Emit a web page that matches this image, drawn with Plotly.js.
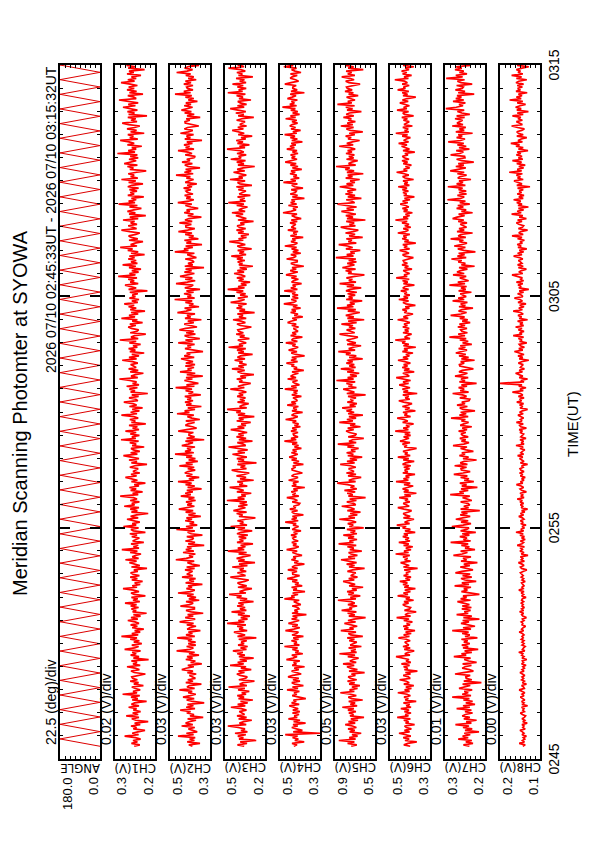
<!DOCTYPE html>
<html>
<head>
<meta charset="utf-8">
<script src="https://cdn.plot.ly/plotly-3.0.1.min.js"></script>
<style>
  html, body { margin: 0; padding: 0; background: #ffffff; }
  #page { position: relative; width: 595px; height: 842px; overflow: hidden; background: #fff; }
  #plot { position: absolute; left: 0; top: 0; width: 842px; height: 595px;
          transform-origin: 0 0; transform: translate(0px, 842px) rotate(-90deg); }
</style>
</head>
<body>
<div id="page"><div id="plot"></div></div>
<script>
// ---------------- data ----------------
const startTime = '2026-07-10 02:45:33';
const sampleStepSec = 3.75;   // photometer channel sampling
const angleStepSec = 19;      // one meridian sweep

const angleDeg = [0,180,0,180,0,180,0,180,0,180,0,180,0,180,0,180,0,180,0,180,
0,180,0,180,0,180,0,180,0,180,0,180,0,180,0,180,0,180,0,180,
0,180,0,180,0,180,0,180,0,180,0,180,0,180,0,180,0,180,0,180,
0,180,0,180,0,180,0,180,0,180,0,180,0,180,0,180,0,180,0,180,
0,180,0,180,0,180,0,180,0,180,0,180,0,180,0];

const ch1 = [.252,.238,.259,.244,.255,.236,.249,.276,.241,.257,.243,.225,.254,.246,.260,.237,.251,.217,.248,.258,.240,.272,.242,.256,
.236,.254,.246,.266,.240,.259,.251,.221,.257,.243,.260,.238,.281,.245,.255,.237,.249,.258,.229,.253,.241,.262,.244,.256,
.258,.242,.224,.252,.260,.239,.250,.270,.237,.255,.245,.259,.216,.254,.240,.261,.247,.257,.236,.276,.251,.241,.258,.233,
.253,.239,.262,.245,.284,.242,.258,.237,.251,.228,.257,.244,.261,.240,.250,.268,.243,.260,.236,.254,.221,.256,.247,.259,
.241,.261,.246,.275,.238,.255,.243,.259,.224,.252,.260,.240,.254,.280,.245,.257,.237,.251,.231,.258,.244,.262,.239,.255,
.261,.243,.253,.220,.259,.238,.255,.264,.246,.274,.241,.257,.248,.235,.262,.244,.283,.240,.254,.242,.260,.228,.256,.247,
.239,.258,.245,.263,.224,.254,.260,.241,.279,.247,.257,.238,.252,.270,.242,.261,.246,.217,.259,.244,.262,.240,.277,.251,
.258,.239,.262,.245,.254,.287,.242,.256,.231,.261,.247,.264,.240,.252,.224,.259,.244,.263,.274,.246,.260,.238,.255,.249,
.242,.263,.250,.220,.259,.245,.265,.240,.256,.279,.244,.261,.238,.254,.260,.227,.257,.247,.263,.241,.285,.248,.258,.239,
.262,.247,.274,.240,.256,.244,.265,.223,.259,.249,.263,.242,.253,.284,.245,.261,.239,.257,.231,.264,.246,.255,.278,.243,
.248,.265,.241,.258,.218,.261,.250,.264,.244,.271,.240,.256,.246,.263,.289,.243,.260,.249,.229,.262,.242,.266,.247,.254,
.261,.243,.256,.282,.246,.265,.240,.258,.227,.263,.249,.266,.244,.255,.236,.264,.247,.288,.242,.260,.251,.223,.262,.245,
.241,.259,.267,.248,.263,.231,.257,.244,.284,.250,.265,.242,.260,.225,.262,.247,.266,.252,.277,.243,.258,.240,.264,.249,
.257,.243,.263,.219,.266,.247,.259,.275,.242,.262,.252,.267,.245,.292,.249,.264,.241,.258,.235,.265,.248,.281,.244,.260,
.247,.267,.251,.264,.226,.260,.242,.268,.256,.287,.245,.261,.250,.230,.265,.243,.259,.266,.248,.238,.263,.284,.246,.257,
.267,.245,.261,.251,.280,.242,.263,.223,.265,.249,.269,.253,.234,.264,.244,.291,.250,.266,.247,.259,.228,.268,.252,.262,
.245,.264,.241,.268,.258,.230,.266,.248,.284,.243,.261,.252,.267,.246,.222,.263,.254,.269,.244,.277,.260,.247,.265,.242,
.262,.244,.294,.250,.267,.247,.258,.233,.269,.252,.265,.287,.243,.263,.254,.268,.227,.261,.246,.270,.251,.238,.266,.282,
.245,.260,.248,.268,.220,.266,.251,.269,.244,.259,.280,.249,.267,.242,.262,.290,.247,.253,.268,.230,.264,.246,.270,.252,
.266,.244,.262,.285,.251,.268,.247,.259,.235,.270,.253,.265,.226,.267,.249,.271,.260,.294,.245,.263,.255,.240,.268,.250];

const ch2 = [.388,.406,.350,.414,.378,.402,.374,.460,.382,.418,.364,.390,.408,.376,.442,.386,.422,.404,.370,.412,.334,.400,.380,.416,
.397,.449,.375,.419,.383,.413,.329,.387,.417,.379,.435,.399,.371,.409,.389,.453,.377,.415,.403,.343,.421,.385,.411,.373,
.391,.403,.369,.413,.385,.441,.419,.381,.411,.341,.397,.373,.421,.387,.415,.355,.405,.377,.467,.401,.383,.417,.371,.409,
.372,.410,.390,.464,.376,.420,.388,.408,.348,.414,.402,.370,.416,.382,.452,.406,.374,.424,.384,.412,.334,.394,.420,.378,
.378,.448,.402,.384,.420,.354,.406,.370,.414,.382,.460,.398,.376,.418,.390,.410,.338,.422,.380,.404,.372,.440,.386,.416,
.401,.387,.425,.377,.417,.351,.391,.413,.379,.471,.419,.385,.405,.373,.435,.381,.421,.393,.415,.329,.409,.375,.423,.389,
.382,.416,.338,.394,.412,.376,.468,.386,.420,.364,.402,.380,.424,.390,.418,.346,.408,.372,.422,.384,.456,.404,.378,.414,
.390,.420,.372,.408,.378,.446,.396,.424,.386,.416,.342,.412,.376,.422,.392,.460,.380,.406,.354,.418,.388,.426,.410,.374,
.411,.379,.453,.387,.421,.361,.407,.373,.419,.389,.475,.381,.425,.395,.415,.375,.441,.409,.385,.423,.329,.417,.377,.405,
.405,.383,.459,.417,.367,.387,.423,.409,.377,.421,.351,.391,.413,.381,.465,.403,.427,.375,.411,.343,.419,.393,.425,.385,
.414,.394,.426,.346,.408,.384,.422,.390,.472,.378,.418,.358,.396,.428,.388,.420,.336,.416,.374,.450,.392,.412,.380,.424,
.375,.421,.385,.411,.445,.379,.429,.399,.417,.335,.383,.425,.395,.413,.377,.459,.387,.423,.351,.407,.427,.373,.419,.381,
.453,.421,.365,.391,.429,.381,.411,.343,.425,.397,.415,.375,.463,.419,.393,.427,.355,.405,.383,.423,.389,.477,.377,.413,
.394,.430,.382,.418,.350,.426,.396,.384,.470,.414,.374,.424,.388,.450,.408,.378,.428,.392,.422,.330,.426,.386,.410,.380,
.388,.424,.368,.398,.414,.378,.476,.408,.430,.386,.422,.340,.418,.394,.428,.358,.406,.382,.424,.390,.458,.412,.376,.420,
.421,.393,.453,.389,.425,.405,.343,.411,.383,.429,.401,.417,.359,.395,.423,.391,.461,.407,.381,.419,.397,.427,.385,.413,
.420,.396,.432,.390,.414,.366,.424,.406,.382,.418,.398,.470,.384,.428,.394,.422,.350,.410,.426,.388,.440,.400,.416,.380,
.374,.424,.390,.410,.460,.380,.422,.402,.430,.388,.416,.340,.426,.398,.418,.382,.448,.408,.386,.428,.412,.356,.392,.424,
.425,.401,.419,.349,.415,.379,.427,.393,.443,.407,.387,.429,.395,.421,.363,.409,.381,.423,.391,.475,.397,.431,.385,.413,
.417,.385,.431,.395,.423,.369,.409,.381,.421,.397,.467,.415,.387,.427,.411,.355,.425,.393,.417,.383,.457,.399,.429,.389];

const ch3 = [.356,.407,.335,.386,.266,.395,.362,.404,.344,.425,.332,.380,.350,.401,.479,.341,.392,.359,.299,.398,.338,.410,.353,.374,
.393,.339,.378,.456,.348,.405,.330,.384,.291,.399,.357,.408,.342,.375,.318,.402,.351,.474,.336,.390,.363,.279,.396,.345,
.333,.387,.411,.354,.399,.303,.381,.342,.462,.360,.405,.336,.390,.285,.396,.351,.408,.366,.441,.339,.384,.330,.402,.357,
.379,.337,.397,.265,.406,.349,.385,.433,.334,.394,.364,.409,.343,.484,.355,.400,.331,.382,.313,.403,.352,.451,.340,.388,
.349,.409,.361,.400,.286,.388,.334,.412,.376,.469,.343,.391,.358,.298,.403,.337,.385,.406,.352,.322,.397,.460,.346,.379,
.407,.341,.389,.359,.446,.332,.395,.275,.401,.353,.413,.365,.308,.398,.338,.479,.356,.404,.347,.383,.290,.410,.362,.392,
.341,.398,.329,.410,.380,.296,.404,.350,.458,.335,.389,.362,.407,.344,.272,.395,.368,.413,.338,.437,.386,.347,.401,.332,
.390,.336,.486,.354,.405,.345,.378,.303,.411,.360,.399,.465,.333,.393,.366,.408,.285,.387,.342,.414,.357,.318,.402,.450,
.339,.384,.348,.408,.264,.402,.357,.411,.336,.381,.444,.351,.405,.330,.390,.474,.345,.363,.408,.294,.396,.342,.414,.360,
.400,.334,.388,.457,.355,.406,.343,.379,.307,.412,.361,.397,.280,.403,.349,.415,.382,.484,.337,.391,.367,.322,.406,.352,
.388,.346,.409,.364,.397,.340,.379,.460,.355,.403,.361,.307,.394,.370,.412,.343,.385,.283,.376,.406,.352,.448,.358,.400,
.338,.392,.368,.428,.350,.407,.383,.293,.401,.359,.410,.344,.473,.365,.395,.341,.377,.404,.317,.389,.353,.416,.362,.398,
.404,.356,.302,.386,.410,.347,.380,.440,.341,.395,.365,.407,.278,.392,.350,.413,.371,.401,.338,.458,.383,.353,.404,.329,
.387,.345,.414,.363,.480,.354,.402,.339,.381,.312,.399,.360,.411,.348,.378,.432,.357,.408,.336,.390,.291,.396,.369,.405,
.351,.411,.366,.453,.342,.393,.357,.405,.300,.384,.408,.348,.390,.468,.363,.399,.339,.381,.321,.402,.360,.414,.345,.393,
.409,.355,.385,.286,.403,.340,.391,.418,.364,.448,.349,.397,.370,.331,.412,.358,.475,.346,.388,.352,.406,.310,.394,.367,
.343,.400,.361,.415,.298,.388,.406,.349,.463,.367,.397,.340,.382,.436,.352,.409,.364,.277,.403,.358,.412,.346,.457,.379,
.398,.341,.410,.359,.386,.485,.350,.392,.317,.407,.365,.416,.344,.380,.296,.401,.356,.413,.446,.362,.404,.338,.389,.371,
.350,.413,.374,.284,.401,.359,.419,.344,.392,.461,.356,.407,.338,.386,.404,.305,.395,.365,.413,.347,.479,.368,.398,.341,
.408,.363,.444,.342,.390,.354,.417,.291,.399,.369,.411,.348,.381,.474,.357,.405,.339,.393,.315,.414,.360,.387,.456,.351];

const ch4 = [.431,.415,.440,.379,.426,.408,.437,.412,.474,.300,.434,.388,.417,.441,.411,.435,.372,.432,.400,.458,.414,.429,.405,.438,
.401,.436,.409,.429,.454,.404,.442,.419,.433,.371,.407,.439,.416,.430,.403,.465,.410,.438,.383,.426,.441,.400,.435,.406,
.460,.436,.394,.413,.442,.406,.429,.377,.439,.418,.432,.401,.468,.435,.415,.441,.386,.424,.407,.438,.412,.478,.403,.430,
.416,.443,.407,.434,.383,.440,.417,.408,.473,.431,.401,.439,.411,.458,.427,.404,.442,.414,.437,.368,.440,.410,.428,.405,
.411,.439,.396,.419,.431,.404,.478,.427,.443,.410,.437,.375,.434,.416,.442,.389,.425,.407,.439,.413,.464,.430,.402,.436,
.437,.415,.461,.412,.440,.425,.378,.429,.408,.443,.421,.434,.390,.417,.438,.414,.467,.426,.406,.435,.418,.441,.409,.431,
.436,.418,.445,.413,.432,.395,.439,.426,.407,.435,.419,.474,.409,.442,.416,.438,.383,.429,.441,.412,.451,.421,.433,.406,
.401,.439,.413,.429,.466,.406,.438,.422,.444,.412,.433,.376,.441,.419,.435,.407,.457,.427,.410,.442,.430,.388,.415,.439,
.440,.422,.436,.383,.433,.405,.442,.416,.454,.427,.411,.443,.417,.437,.393,.428,.407,.439,.414,.478,.419,.445,.410,.431,
.434,.410,.445,.417,.439,.398,.428,.407,.437,.419,.472,.433,.411,.442,.430,.387,.440,.416,.434,.408,.464,.420,.443,.413,
.421,.435,.393,.441,.414,.432,.411,.476,.417,.444,.403,.423,.437,.412,.462,.420,.447,.434,.408,.440,.381,.431,.415,.443,
.429,.468,.412,.445,.418,.441,.377,.421,.444,.415,.457,.430,.409,.438,.422,.471,.413,.442,.433,.388,.447,.419,.439,.410,
.424,.433,.407,.441,.419,.462,.445,.416,.439,.386,.429,.410,.447,.421,.442,.397,.435,.413,.481,.432,.418,.444,.409,.438,
.410,.439,.423,.479,.413,.446,.422,.437,.392,.442,.433,.408,.443,.417,.470,.436,.411,.449,.419,.440,.381,.426,.446,.414,
.414,.467,.433,.419,.446,.396,.436,.408,.442,.417,.476,.430,.413,.445,.423,.439,.384,.448,.416,.434,.410,.461,.420,.443,
.432,.421,.450,.414,.444,.394,.424,.441,.415,.485,.446,.420,.435,.411,.458,.417,.447,.426,.443,.378,.438,.412,.449,.423,
.418,.444,.385,.427,.441,.413,.483,.421,.447,.404,.433,.416,.450,.424,.445,.391,.438,.410,.448,.419,.474,.435,.415,.442,
.424,.447,.410,.438,.415,.466,.428,.450,.421,.444,.388,.441,.413,.448,.425,.477,.416,.436,.397,.445,.422,.451,.439,.412,
.440,.416,.472,.422,.448,.402,.437,.411,.446,.423,.488,.417,.451,.428,.443,.413,.463,.439,.420,.449,.378,.445,.414,.436,
.436,.419,.476,.445,.407,.422,.449,.439,.414,.448,.395,.425,.442,.417,.481,.434,.452,.413,.440,.389,.446,.426,.451,.420];

const ch5 = [.738,.682,.774,.706,.862,.694,.758,.674,.730,.638,.754,.702,.770,.686,.726,.798,.698,.766,.670,.742,.610,.750,.714,.762,
.691,.771,.711,.827,.679,.747,.699,.763,.623,.735,.767,.687,.743,.847,.707,.755,.675,.731,.651,.759,.703,.775,.683,.747,
.768,.696,.736,.604,.760,.676,.744,.780,.708,.820,.688,.752,.716,.664,.772,.700,.856,.684,.740,.692,.764,.636,.748,.712,
.682,.758,.706,.778,.622,.742,.766,.690,.842,.714,.754,.678,.734,.806,.694,.770,.710,.594,.762,.702,.774,.686,.834,.730,
.755,.679,.771,.703,.739,.871,.691,.747,.647,.767,.711,.779,.683,.731,.619,.759,.699,.775,.819,.707,.763,.675,.743,.719,
.692,.776,.724,.604,.760,.704,.784,.684,.748,.840,.700,.768,.676,.740,.764,.632,.752,.712,.776,.688,.864,.716,.756,.680,
.769,.709,.817,.681,.745,.697,.781,.613,.757,.717,.773,.689,.733,.857,.701,.765,.677,.749,.645,.777,.705,.741,.833,.693,
.714,.782,.686,.754,.594,.766,.722,.778,.698,.806,.682,.746,.706,.774,.878,.694,.762,.718,.638,.770,.690,.786,.710,.738,
.764,.692,.744,.848,.704,.780,.680,.752,.628,.772,.716,.784,.696,.740,.664,.776,.708,.872,.688,.760,.724,.612,.768,.700,
.685,.757,.789,.713,.773,.645,.749,.697,.857,.721,.781,.689,.761,.621,.769,.709,.785,.729,.829,.693,.753,.681,.777,.717,
.746,.690,.770,.594,.782,.706,.754,.818,.686,.766,.726,.786,.698,.886,.714,.774,.682,.750,.658,.778,.710,.842,.694,.758,
.707,.787,.723,.775,.623,.759,.687,.791,.743,.867,.699,.763,.719,.639,.779,.691,.755,.783,.711,.671,.771,.855,.703,.747,
.784,.696,.760,.720,.836,.684,.768,.608,.776,.712,.792,.728,.652,.772,.692,.880,.716,.780,.704,.752,.628,.788,.724,.764,
.698,.774,.682,.790,.750,.638,.782,.710,.854,.690,.762,.726,.786,.702,.606,.770,.734,.794,.694,.826,.758,.706,.778,.686,
.763,.691,.891,.715,.783,.703,.747,.647,.791,.723,.775,.863,.687,.767,.731,.787,.623,.759,.699,.795,.719,.667,.779,.843,
.696,.756,.708,.788,.596,.780,.720,.792,.692,.752,.836,.712,.784,.684,.764,.876,.704,.728,.788,.636,.772,.700,.796,.724,
.777,.689,.761,.853,.717,.785,.701,.749,.653,.793,.725,.773,.617,.781,.709,.797,.753,.889,.693,.765,.733,.673,.785,.713,
.762,.706,.790,.730,.774,.698,.750,.858,.718,.782,.726,.654,.770,.738,.794,.702,.758,.622,.746,.786,.714,.842,.722,.778,
.696,.768,.736,.816,.712,.788,.756,.636,.780,.724,.792,.704,.876,.732,.772,.700,.748,.784,.668,.764,.716,.800,.728,.776,
.785,.721,.649,.761,.793,.709,.753,.833,.701,.773,.733,.789,.617,.769,.713,.797,.741,.781,.697,.857,.757,.717,.785,.685];

const ch6 = [.399,.431,.411,.366,.425,.404,.434,.396,.421,.455,.402,.428,.393,.418,.427,.377,.422,.407,.431,.398,.464,.408,.424,.395,
.428,.405,.446,.395,.419,.401,.433,.369,.424,.408,.430,.398,.415,.461,.402,.427,.393,.421,.381,.431,.404,.418,.452,.399,
.408,.434,.397,.423,.363,.428,.411,.432,.402,.443,.396,.420,.405,.431,.470,.400,.426,.409,.379,.429,.399,.435,.406,.417,
.426,.399,.419,.458,.403,.432,.394,.422,.375,.429,.408,.434,.400,.417,.388,.431,.405,.467,.397,.425,.411,.369,.428,.402,
.397,.424,.436,.407,.430,.382,.421,.401,.462,.410,.433,.398,.426,.373,.429,.406,.435,.413,.451,.400,.423,.395,.432,.409,
.420,.398,.429,.362,.433,.404,.423,.447,.397,.427,.412,.435,.401,.472,.407,.430,.395,.421,.386,.432,.406,.456,.400,.424,
.405,.436,.411,.431,.374,.425,.398,.437,.419,.466,.402,.427,.410,.380,.433,.399,.424,.434,.407,.392,.430,.461,.404,.421,
.434,.401,.425,.410,.454,.396,.428,.368,.431,.407,.437,.413,.384,.430,.399,.470,.408,.433,.404,.422,.375,.436,.411,.427,
.402,.431,.396,.437,.422,.379,.434,.406,.461,.399,.426,.412,.435,.403,.367,.429,.415,.438,.400,.450,.425,.405,.432,.397,
.426,.399,.474,.408,.434,.403,.420,.382,.437,.411,.431,.464,.397,.428,.414,.435,.373,.425,.402,.438,.409,.390,.432,.456,
.401,.424,.406,.436,.364,.433,.410,.438,.400,.423,.454,.407,.435,.397,.427,.469,.404,.413,.436,.379,.430,.403,.439,.412,
.432,.398,.426,.460,.409,.435,.403,.421,.385,.438,.412,.430,.371,.433,.406,.439,.423,.474,.400,.427,.415,.392,.435,.407,
.426,.404,.436,.413,.430,.401,.421,.462,.409,.433,.412,.385,.429,.416,.438,.403,.424,.373,.420,.435,.407,.456,.410,.432,
.401,.428,.416,.446,.407,.436,.424,.378,.433,.411,.437,.404,.469,.414,.430,.402,.421,.434,.390,.427,.408,.440,.413,.431,
.434,.410,.383,.425,.437,.405,.422,.452,.402,.430,.414,.436,.371,.428,.407,.439,.417,.433,.401,.461,.424,.408,.434,.396,
.426,.405,.440,.414,.473,.409,.434,.402,.423,.388,.432,.412,.438,.406,.422,.449,.411,.437,.400,.428,.378,.431,.417,.435,
.408,.438,.415,.459,.403,.429,.411,.435,.382,.425,.437,.406,.428,.467,.414,.432,.402,.423,.393,.434,.412,.440,.405,.429,
.438,.410,.426,.376,.435,.403,.429,.442,.415,.457,.407,.432,.418,.398,.439,.412,.471,.406,.427,.409,.436,.388,.430,.416,
.404,.433,.413,.441,.382,.427,.436,.407,.465,.416,.432,.403,.424,.451,.409,.438,.415,.371,.435,.412,.439,.406,.462,.423,
.433,.404,.439,.413,.427,.476,.408,.430,.392,.437,.416,.442,.405,.424,.381,.434,.411,.440,.457,.414,.436,.402,.428,.419];

const ch7 = [.239,.254,.230,.248,.233,.267,.242,.256,.237,.252,.215,.250,.232,.255,.240,.274,.234,.247,.221,.253,.238,.257,.249,.231,
.250,.234,.271,.238,.255,.225,.248,.231,.254,.239,.282,.235,.257,.242,.252,.232,.265,.249,.237,.256,.209,.253,.233,.247,
.248,.237,.275,.254,.229,.239,.257,.250,.234,.256,.221,.241,.252,.236,.278,.247,.259,.233,.251,.217,.255,.242,.258,.238,
.253,.243,.259,.219,.250,.238,.257,.241,.282,.235,.255,.225,.244,.260,.240,.256,.214,.254,.233,.271,.242,.252,.236,.258,
.234,.257,.239,.252,.269,.236,.261,.246,.255,.214,.238,.259,.244,.253,.235,.276,.240,.258,.222,.250,.260,.233,.256,.237,
.274,.258,.230,.243,.262,.238,.253,.219,.260,.246,.255,.235,.279,.257,.244,.261,.225,.250,.239,.259,.242,.286,.236,.254,
.245,.263,.239,.257,.223,.261,.246,.240,.283,.255,.235,.260,.242,.273,.252,.237,.262,.244,.259,.213,.261,.241,.253,.238,
.243,.261,.233,.248,.256,.238,.287,.253,.264,.242,.260,.219,.258,.246,.263,.228,.252,.240,.261,.244,.278,.255,.237,.259,
.260,.246,.276,.244,.262,.252,.221,.255,.241,.264,.250,.258,.229,.247,.261,.245,.280,.253,.240,.259,.248,.263,.242,.256,
.260,.248,.266,.245,.257,.233,.262,.253,.241,.259,.249,.285,.242,.264,.247,.261,.225,.255,.263,.244,.270,.250,.258,.240,
.238,.263,.246,.256,.281,.241,.262,.252,.266,.245,.259,.221,.264,.250,.260,.242,.275,.255,.244,.265,.257,.229,.247,.263,
.264,.252,.261,.226,.259,.241,.265,.248,.273,.255,.245,.266,.249,.262,.233,.256,.242,.263,.247,.289,.250,.267,.244,.258,
.261,.245,.268,.250,.264,.237,.257,.243,.263,.251,.286,.260,.246,.266,.258,.230,.265,.249,.261,.244,.281,.252,.267,.247,
.253,.262,.234,.266,.248,.260,.246,.289,.250,.268,.241,.254,.263,.247,.280,.252,.270,.261,.244,.265,.226,.259,.249,.267,
.258,.284,.247,.269,.251,.266,.224,.253,.268,.249,.277,.259,.245,.264,.254,.286,.248,.267,.261,.231,.270,.252,.265,.246,
.256,.262,.245,.267,.253,.281,.270,.251,.266,.231,.259,.247,.271,.254,.268,.238,.263,.249,.294,.261,.252,.269,.246,.265,
.247,.266,.256,.293,.249,.271,.255,.265,.235,.268,.262,.246,.269,.252,.287,.264,.248,.273,.253,.267,.228,.258,.271,.250,
.251,.286,.263,.254,.272,.239,.265,.247,.269,.253,.292,.261,.250,.271,.257,.267,.231,.273,.252,.264,.248,.282,.255,.270,
.263,.256,.275,.251,.271,.238,.258,.269,.252,.298,.272,.255,.265,.249,.280,.253,.273,.259,.270,.227,.267,.250,.274,.257,
.254,.271,.232,.260,.269,.251,.297,.256,.273,.245,.264,.253,.275,.258,.272,.236,.267,.249,.274,.255,.291,.265,.252,.270];

const ch8 = [.143,.137,.152,.139,.144,.138,.142,.134,.145,.140,.144,.150,.137,.143,.140,.145,.132,.143,.138,.145,.139,.136,.144,.149,
.139,.143,.140,.146,.131,.145,.140,.146,.138,.143,.149,.140,.145,.138,.144,.152,.139,.141,.146,.134,.144,.139,.146,.141,
.145,.138,.144,.150,.140,.145,.139,.143,.135,.146,.141,.144,.133,.145,.140,.146,.143,.153,.138,.144,.141,.137,.145,.140,
.145,.140,.147,.142,.145,.140,.144,.152,.141,.146,.142,.136,.145,.143,.147,.140,.144,.134,.143,.146,.141,.151,.141,.146,
.139,.145,.142,.148,.141,.146,.144,.135,.146,.141,.147,.140,.153,.142,.145,.140,.143,.146,.137,.145,.141,.147,.142,.145,
.149,.141,.133,.146,.149,.140,.145,.154,.139,.147,.143,.149,.130,.147,.140,.150,.144,.148,.139,.157,.145,.141,.149,.137,
.146,.139,.150,.142,.160,.141,.148,.139,.145,.135,.148,.142,.149,.140,.144,.153,.141,.149,.138,.146,.131,.147,.143,.149,
.141,.150,.144,.157,.140,.148,.142,.150,.134,.146,.150,.141,.147,.159,.143,.149,.140,.146,.137,.149,.143,.151,.140,.148,
.150,.142,.146,.131,.149,.140,.147,.151,.143,.156,.141,.148,.144,.138,.150,.142,.160,.140,.147,.141,.150,.135,.148,.144,
.141,.150,.144,.152,.134,.148,.151,.142,.159,.145,.149,.141,.147,.155,.142,.151,.144,.131,.150,.143,.151,.141,.158,.146,
.151,.140,.154,.143,.149,.169,.142,.150,.135,.153,.145,.205,.140,.148,.131,.152,.143,.154,.161,.144,.152,.139,.149,.146,
.142,.154,.146,.128,.152,.143,.155,.140,.150,.164,.143,.153,.139,.149,.152,.133,.151,.145,.154,.141,.167,.145,.151,.140,
.154,.145,.161,.141,.150,.143,.156,.131,.152,.146,.155,.142,.149,.167,.144,.153,.140,.151,.135,.155,.144,.150,.164,.143,
.146,.156,.141,.152,.128,.153,.147,.155,.143,.159,.141,.150,.144,.155,.170,.143,.153,.146,.134,.154,.142,.156,.145,.149,
.154,.143,.151,.166,.145,.156,.141,.152,.133,.155,.147,.157,.144,.150,.139,.156,.145,.170,.142,.153,.148,.131,.154,.144,
.141,.153,.159,.145,.156,.134,.152,.143,.171,.147,.157,.141,.154,.129,.155,.145,.158,.148,.166,.142,.153,.140,.157,.146,
.152,.142,.156,.125,.158,.145,.154,.165,.142,.156,.149,.159,.144,.177,.146,.157,.141,.153,.137,.158,.146,.169,.143,.154,
.145,.159,.148,.157,.130,.154,.142,.160,.151,.173,.144,.155,.147,.133,.158,.142,.154,.158,.146,.139,.156,.171,.144,.152,
.159,.144,.155,.148,.169,.142,.157,.129,.158,.147,.161,.150,.136,.157,.143,.176,.147,.159,.145,.154,.132,.160,.149,.156,
.144,.157,.141,.160,.153,.133,.159,.146,.171,.143,.155,.149,.159,.145,.128,.157,.150,.161,.143,.166,.155,.145,.158,.142];

const panelNames = ['ANGLE','CH1(V)','CH2(V)','CH3(V)','CH4(V)','CH5(V)','CH6(V)','CH7(V)','CH8(V)'];
const panelMin = [0.0, 0.2, 0.3, 0.2, 0.3, 0.5, 0.3, 0.2, 0.1];
const panelMax = [180.0, 0.3, 0.5, 0.5, 0.5, 0.9, 0.5, 0.3, 0.2];
const minLabels = ['0.0','0.2','0.3','0.2','0.3','0.5','0.3','0.2','0.1'];
const maxLabels = ['180.0','0.3','0.5','0.5','0.5','0.9','0.5','0.3','0.2'];
const divLabels = ['22.5 (deg)/div','0.02 (V)/div','0.03 (V)/div','0.03 (V)/div','0.03 (V)/div',
                   '0.05 (V)/div','0.03 (V)/div','0.01 (V)/div','0.00 (V)/div'];
const periodLabel = '2026 07/10 02:45:33UT - 2026 07/10 03:15:32UT';
const chartTitle = 'Meridian Scanning Photomter at SYOWA';
const timeTitle = 'TIME(UT)';
const axisStart = '2026-07-10 02:45:00';
const axisEnd = '2026-07-10 03:15:00';

// ---------------- build ----------------
function timesFor(n, stepSec) {
  const t0 = new Date(startTime.replace(' ', 'T') + 'Z').getTime();
  const out = [];
  for (let i = 0; i < n; i++) {
    out.push(new Date(t0 + Math.round(i * stepSec * 1000)).toISOString().slice(0, 23).replace('T', ' '));
  }
  return out;
}

const series = [angleDeg, ch1, ch2, ch3, ch4, ch5, ch6, ch7, ch8];
const W = 842, H = 595;
const plotL = 83, plotR = 777;
const panelTop0 = 60, panelPitch = 55, panelH = 40;
const FONT = 'Liberation Sans, Arial, Helvetica, sans-serif';
const NARROW = 'Liberation Sans Narrow, Arial Narrow, DejaVu Sans Condensed, Liberation Sans, sans-serif';

const traces = [];
const layout = {
  width: W, height: H,
  margin: {l: 0, r: 0, t: 0, b: 0},
  paper_bgcolor: '#ffffff', plot_bgcolor: '#ffffff',
  showlegend: false,
  font: {family: FONT, color: '#000', size: 14},
  annotations: []
};

series.forEach((vals, i) => {
  const k = i + 1;
  const xa = k === 1 ? 'x' : 'x' + k;
  const ya = k === 1 ? 'y' : 'y' + k;
  const step = i === 0 ? angleStepSec : sampleStepSec;
  traces.push({
    type: 'scatter', mode: 'lines',
    x: timesFor(vals.length, step), y: vals,
    xaxis: xa, yaxis: ya,
    line: {color: i === 0 ? '#dd0000' : '#ff0000', width: i === 0 ? 1 : 1.7},
    hoverinfo: 'skip'
  });
  const top = panelTop0 + panelPitch * i;
  const bot = top + panelH;
  const yDom = [1 - bot / H, 1 - top / H];
  const isLast = i === series.length - 1;
  layout['xaxis' + (k === 1 ? '' : k)] = {
    type: 'date', domain: [plotL / W, plotR / W], anchor: ya,
    range: [axisStart, axisEnd],
    tickmode: 'linear', tick0: axisStart, dtick: 600000,
    ticks: 'inside', ticklen: 10, tickwidth: 2, tickcolor: '#000',
    minor: {dtick: 60000, ticks: 'inside', ticklen: 3, tickwidth: 1, tickcolor: '#000'},
    showline: true, linecolor: '#000', linewidth: 2, mirror: 'ticks',
    showgrid: false, zeroline: false,
    showticklabels: isLast, tickformat: '%H%M',
    tickfont: {family: FONT, size: 14, color: '#000'}
  };
  layout['yaxis' + (k === 1 ? '' : k)] = {
    domain: yDom, anchor: xa,
    range: [panelMin[i], panelMax[i]],
    tickmode: 'linear', tick0: panelMin[i], dtick: (panelMax[i] - panelMin[i]) / 8,
    ticks: 'inside', ticklen: 3, tickwidth: 1, tickcolor: '#000',
    showline: true, linecolor: '#000', linewidth: 2, mirror: 'ticks',
    showgrid: false, zeroline: false, showticklabels: false
  };
  layout.annotations.push({
    xref: 'paper', yref: 'paper', x: 96 / W, y: yDom[1], xanchor: 'left', yanchor: 'bottom',
    text: divLabels[i], showarrow: false, font: {family: FONT, size: 14, color: '#000'}, borderpad: 0
  });
  layout.annotations.push({
    xref: 'paper', yref: 'paper', x: 66 / W, y: 1 - (top + 7) / H, xanchor: 'right', yanchor: 'middle',
    text: maxLabels[i], showarrow: false, font: {family: FONT, size: 13, color: '#000'}, borderpad: 0
  });
  layout.annotations.push({
    xref: 'paper', yref: 'paper', x: 66 / W, y: 1 - (bot - 7) / H, xanchor: 'right', yanchor: 'middle',
    text: minLabels[i], showarrow: false, font: {family: FONT, size: 13, color: '#000'}, borderpad: 0
  });
  layout.annotations.push({
    xref: 'paper', yref: 'paper', x: 74 / W, y: 1 - (top + bot) / 2 / H, xanchor: 'center', yanchor: 'middle',
    text: panelNames[i], textangle: -90, showarrow: false, font: {family: NARROW, size: 13, color: '#000'}, borderpad: 0
  });
});

layout.annotations.push({
  xref: 'paper', yref: 'paper', x: plotR / W, y: 1 - panelTop0 / H, xanchor: 'right', yanchor: 'bottom',
  text: periodLabel, showarrow: false, font: {family: FONT, size: 14, color: '#000'}, borderpad: 0
});
layout.annotations.push({
  xref: 'paper', yref: 'paper', x: 429 / W, y: 1 - 20 / H, xanchor: 'center', yanchor: 'middle',
  text: chartTitle, showarrow: false, font: {family: FONT, size: 20, color: '#000'}
});
layout.annotations.push({
  xref: 'paper', yref: 'paper', x: 418 / W, y: 1 - 572 / H, xanchor: 'center', yanchor: 'middle',
  text: timeTitle, showarrow: false, font: {family: FONT, size: 15, color: '#000'}
});

Plotly.newPlot('plot', traces, layout, {staticPlot: true, displayModeBar: false});
</script>
</body>
</html>
